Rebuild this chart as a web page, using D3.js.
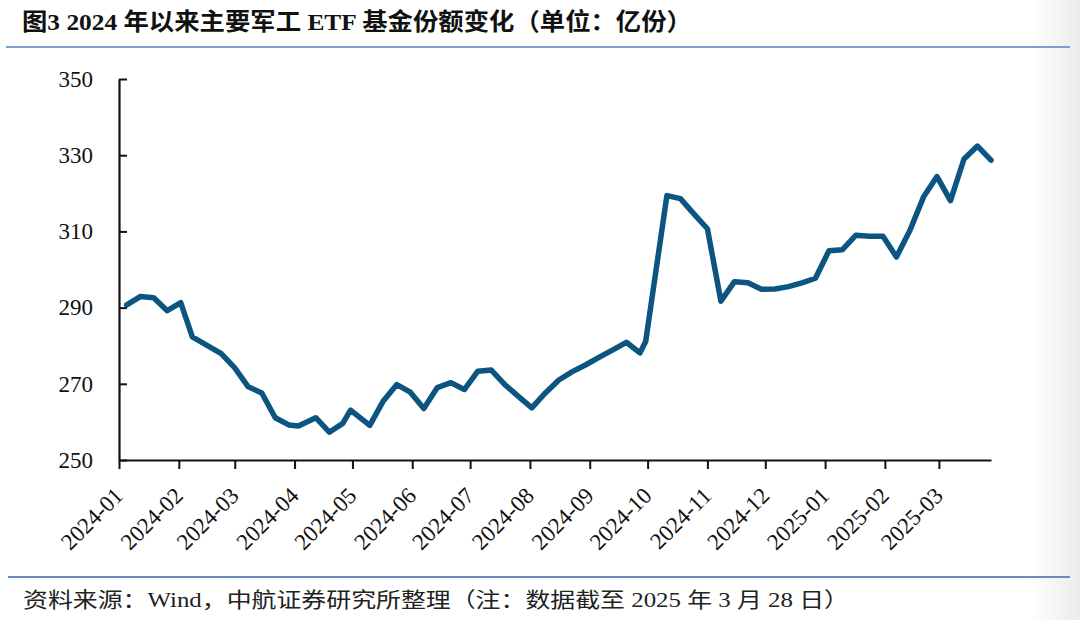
<!DOCTYPE html>
<html>
<head>
<meta charset="utf-8">
<script src="https://cdn.jsdelivr.net/npm/d3@7"></script>
<style>
  html, body { margin: 0; padding: 0; background: #fff; }
  svg { display: block; }
</style>
</head>
<body>
<svg id="chart" width="1080" height="620"></svg>
<script>
// ---- data ----
const dates = [
  "2024-01-05","2024-01-12","2024-01-19","2024-01-26","2024-02-02","2024-02-08",
  "2024-02-23","2024-03-01","2024-03-08","2024-03-15","2024-03-22","2024-03-29",
  "2024-04-03","2024-04-12","2024-04-19","2024-04-26","2024-04-30","2024-05-10",
  "2024-05-17","2024-05-24","2024-05-31","2024-06-07","2024-06-14","2024-06-21",
  "2024-06-28","2024-07-05","2024-07-12","2024-07-19","2024-07-26","2024-08-02",
  "2024-08-09","2024-08-16","2024-08-23","2024-08-30","2024-09-06","2024-09-13",
  "2024-09-20","2024-09-27","2024-09-30","2024-10-11","2024-10-18","2024-10-25",
  "2024-11-01","2024-11-08","2024-11-15","2024-11-22","2024-11-29","2024-12-06",
  "2024-12-13","2024-12-20","2024-12-27","2025-01-03","2025-01-10","2025-01-17",
  "2025-01-24","2025-01-31","2025-02-07","2025-02-14","2025-02-21","2025-02-28",
  "2025-03-07","2025-03-14","2025-03-21","2025-03-28"
];
const shares = [
  290.7, 292.9, 292.6, 289.2, 291.3, 282.3,
  277.9, 274.2, 269.2, 267.6, 261.1, 259.2,
  258.9, 261.1, 257.3, 259.6, 263.1, 259.1,
  265.5, 269.8, 267.8, 263.5, 269.0, 270.3,
  268.5, 273.3, 273.6, 269.8, 266.7, 263.7,
  267.6, 271.0, 273.2, 275.0, 277.0, 278.9,
  280.9, 278.1, 281.1, 319.4, 318.6, 314.6,
  310.7, 291.7, 296.8, 296.5, 294.8, 294.9,
  295.5, 296.5, 297.7, 304.9, 305.2, 309.0,
  308.7, 308.7, 303.3, 310.3, 319.0, 324.4,
  318.1, 329.0, 332.4, 328.7
];
const xTickLabels = ["2024-01","2024-02","2024-03","2024-04","2024-05","2024-06","2024-07",
  "2024-08","2024-09","2024-10","2024-11","2024-12","2025-01","2025-02","2025-03"];
const yTicks = [250, 270, 290, 310, 330, 350];
const xDomain = ["2024-01-01", "2025-03-28"];
const titleText = "图3 2024 年以来主要军工 ETF 基金份额变化（单位：亿份）";
const sourceText = "资料来源：Wind，中航证券研究所整理（注：数据截至 2025 年 3 月 28 日）";

// ---- drawing ----
const parseDay = d3.timeParse("%Y-%m-%d");
const parseMonth = d3.timeParse("%Y-%m");
const data = dates.map((d, i) => ({ date: parseDay(d), value: shares[i] }));

const svg = d3.select("#chart");
const serif = "'Liberation Serif','Times New Roman','Noto Sans CJK SC',serif";

// right edge soft shade
const defs = svg.append("defs");
const grad = defs.append("linearGradient").attr("id", "edge").attr("x1", "0").attr("x2", "1");
grad.append("stop").attr("offset", "0").attr("stop-color", "#ffffff");
grad.append("stop").attr("offset", "1").attr("stop-color", "#ebebeb");
svg.append("rect").attr("x", 1030).attr("y", 0).attr("width", 50).attr("height", 620).attr("fill", "url(#edge)");

// title
svg.append("text")
  .attr("x", 22).attr("y", 30)
  .attr("font-family", serif)
  .attr("font-weight", "bold")
  .attr("font-size", 24)
  .attr("fill", "#111")
  .attr("textLength", 670).attr("lengthAdjust", "spacingAndGlyphs")
  .text(titleText);

svg.append("line").attr("x1", 6).attr("x2", 1070).attr("y1", 47).attr("y2", 47)
  .attr("stroke", "#7f9ccb").attr("stroke-width", 2);

svg.append("line").attr("x1", 8).attr("x2", 1070).attr("y1", 577).attr("y2", 577)
  .attr("stroke", "#6a8cbd").attr("stroke-width", 2);

svg.append("text")
  .attr("x", 23).attr("y", 607)
  .attr("font-family", serif)
  .attr("font-size", 21)
  .attr("fill", "#222")
  .attr("textLength", 826).attr("lengthAdjust", "spacingAndGlyphs")
  .text(sourceText);

const x = d3.scaleTime().domain(xDomain.map(parseDay)).range([119, 991]);
const y = d3.scaleLinear().domain([250, 350]).range([460, 79]);

// y axis
const yAxis = d3.axisLeft(y).tickValues(yTicks).tickFormat(d3.format("d"))
  .tickSizeInner(-8).tickSizeOuter(0).tickPadding(26);
const gy = svg.append("g").attr("transform", "translate(119,0)").call(yAxis);
gy.select(".domain").attr("stroke", "#111").attr("stroke-width", 2.2);
gy.selectAll(".tick line").attr("stroke", "#111").attr("stroke-width", 2);
gy.selectAll(".tick text").attr("font-family", serif).attr("font-size", 23).attr("fill", "#111");

// x axis
const xAxis = d3.axisBottom(x).tickValues(xTickLabels.map(parseMonth))
  .tickFormat(d3.timeFormat("%Y-%m")).tickSizeInner(9).tickSizeOuter(0).tickPadding(0);
const gx = svg.append("g").attr("transform", "translate(0,460)").call(xAxis);
gx.select(".domain").attr("stroke", "#111").attr("stroke-width", 2.2);
gx.selectAll(".tick line").attr("stroke", "#111").attr("stroke-width", 2);
gx.selectAll(".tick text")
  .attr("font-family", serif).attr("font-size", 23).attr("fill", "#111")
  .attr("text-anchor", "end")
  .attr("dy", 0).attr("y", 0)
  .attr("transform", "translate(5,37) rotate(-45)");

// line
const line = d3.line().x(d => x(d.date)).y(d => y(d.value));
svg.append("path").datum(data)
  .attr("d", line)
  .attr("fill", "none")
  .attr("stroke", "#0c5580")
  .attr("stroke-width", 5.5)
  .attr("stroke-linejoin", "round")
  .attr("stroke-linecap", "round");
</script>
</body>
</html>
